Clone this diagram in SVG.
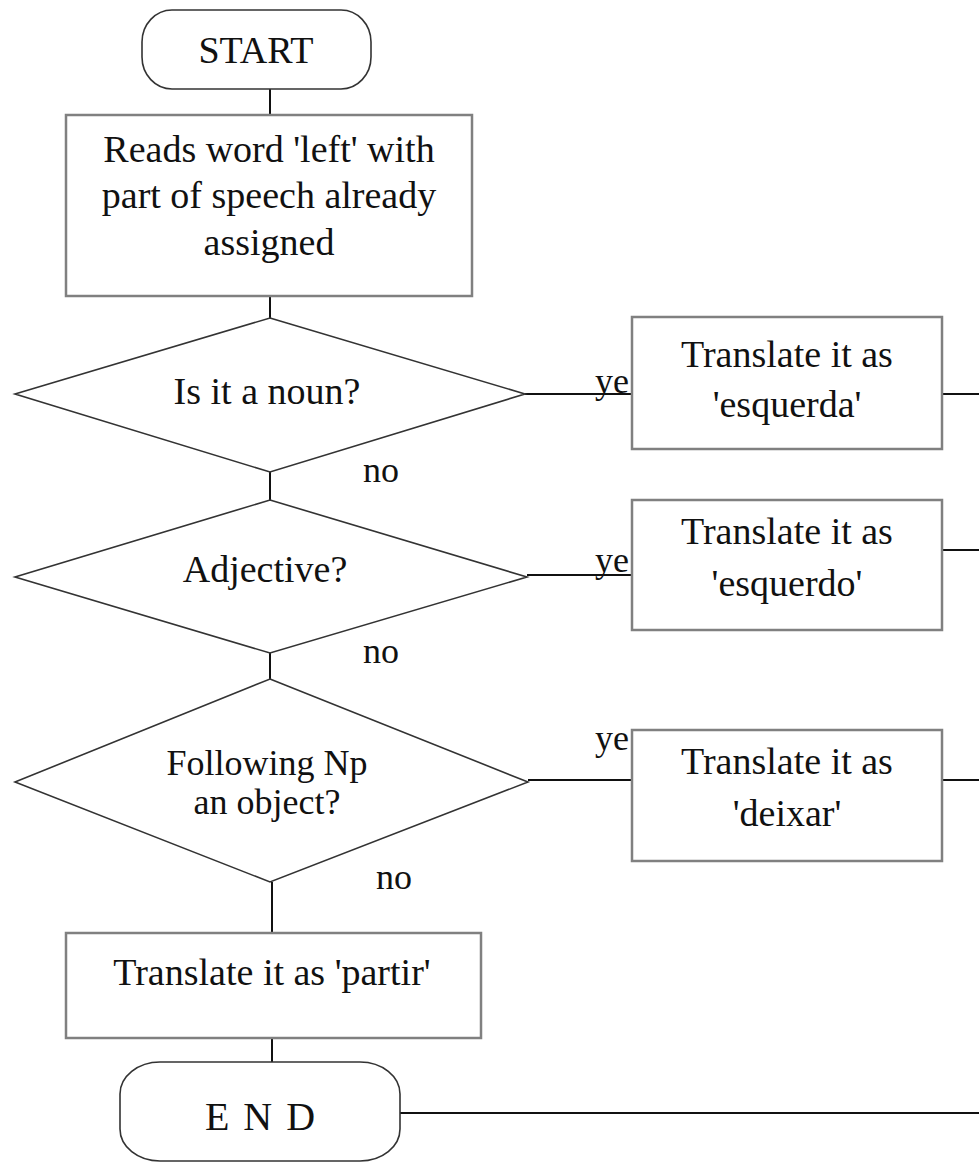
<svg xmlns="http://www.w3.org/2000/svg" width="979" height="1163" viewBox="0 0 979 1163">
<style>
  text { font-family: "Liberation Serif", "Times New Roman", serif; font-size: 38px; fill: #111; text-anchor: middle; }
  .lbl { font-size: 36px; text-anchor: start; }
  .tight { font-size: 36px; }
  .box { fill: #fff; stroke: #808080; stroke-width: 2.5; }
  .dia { fill: #fff; stroke: #333; stroke-width: 1.6; }
  .term { fill: #fff; stroke: #333; stroke-width: 1.6; }
  .conn { fill: none; stroke: #111; stroke-width: 2; }
</style>
<rect width="979" height="1163" fill="#fff"/>
<g id="connectors">
  <line class="conn" x1="270" y1="89" x2="270" y2="115"/>
  <line class="conn" x1="270" y1="296" x2="270" y2="318"/>
  <line class="conn" x1="270" y1="472" x2="270" y2="500"/>
  <line class="conn" x1="270" y1="653" x2="270" y2="679"/>
  <line class="conn" x1="272" y1="882" x2="272" y2="933"/>
  <line class="conn" x1="272" y1="1038" x2="272" y2="1062"/>
  <line class="conn" x1="525" y1="394" x2="632" y2="394"/>
  <line class="conn" x1="527" y1="575" x2="632" y2="575"/>
  <line class="conn" x1="528" y1="780" x2="632" y2="780"/>
  <line class="conn" x1="942" y1="394" x2="979" y2="394"/>
  <line class="conn" x1="942" y1="550" x2="979" y2="550"/>
  <line class="conn" x1="942" y1="780" x2="979" y2="780"/>
  <line class="conn" x1="400" y1="1113" x2="979" y2="1113"/>
  <text class="lbl" x="363" y="482">no</text>
  <text class="lbl" x="363" y="663">no</text>
  <text class="lbl" x="376" y="889">no</text>
  <text class="lbl" x="595" y="393">ye</text>
  <text class="lbl" x="595" y="572">ye</text>
  <text class="lbl" x="595" y="750">ye</text>
</g>
<g id="start">
  <rect class="term" x="142" y="10" width="229" height="79" rx="30" ry="32"/>
  <text x="256" y="63">START</text>
</g>
<g id="read">
  <rect class="box" x="66" y="115" width="406" height="181"/>
  <text x="269" y="162">Reads word 'left' with</text>
  <text x="269" y="208">part of speech already</text>
  <text x="269" y="255">assigned</text>
</g>
<g id="noun">
  <polygon class="dia" points="270,318 525,394 270,472 15,394"/>
  <text x="267" y="404">Is it a noun?</text>
</g>
<g id="adjective">
  <polygon class="dia" points="270,500 527,577 270,653 15,577"/>
  <text x="265" y="582">Adjective?</text>
</g>
<g id="object">
  <polygon class="dia" points="270,679 528,782 270,882 15,782"/>
  <text class="tight" x="267" y="775">Following Np</text>
  <text class="tight" x="267" y="814">an object?</text>
</g>
<g id="esquerda">
  <rect class="box" x="632" y="317" width="310" height="132"/>
  <text x="787" y="367">Translate it as</text>
  <text x="787" y="417">'esquerda'</text>
</g>
<g id="esquerdo">
  <rect class="box" x="632" y="500" width="310" height="130"/>
  <text x="787" y="544">Translate it as</text>
  <text x="787" y="596">'esquerdo'</text>
</g>
<g id="deixar">
  <rect class="box" x="632" y="730" width="310" height="131"/>
  <text x="787" y="774">Translate it as</text>
  <text x="787" y="826">'deixar'</text>
</g>
<g id="partir">
  <rect class="box" x="66" y="933" width="415" height="105"/>
  <text x="272" y="985">Translate it as 'partir'</text>
</g>
<g id="end">
  <rect class="term" x="120" y="1062" width="280" height="99" rx="40" ry="32"/>
  <text x="261" y="1130" style="font-size:40px; letter-spacing:2px">E N D</text>
</g>
</svg>
